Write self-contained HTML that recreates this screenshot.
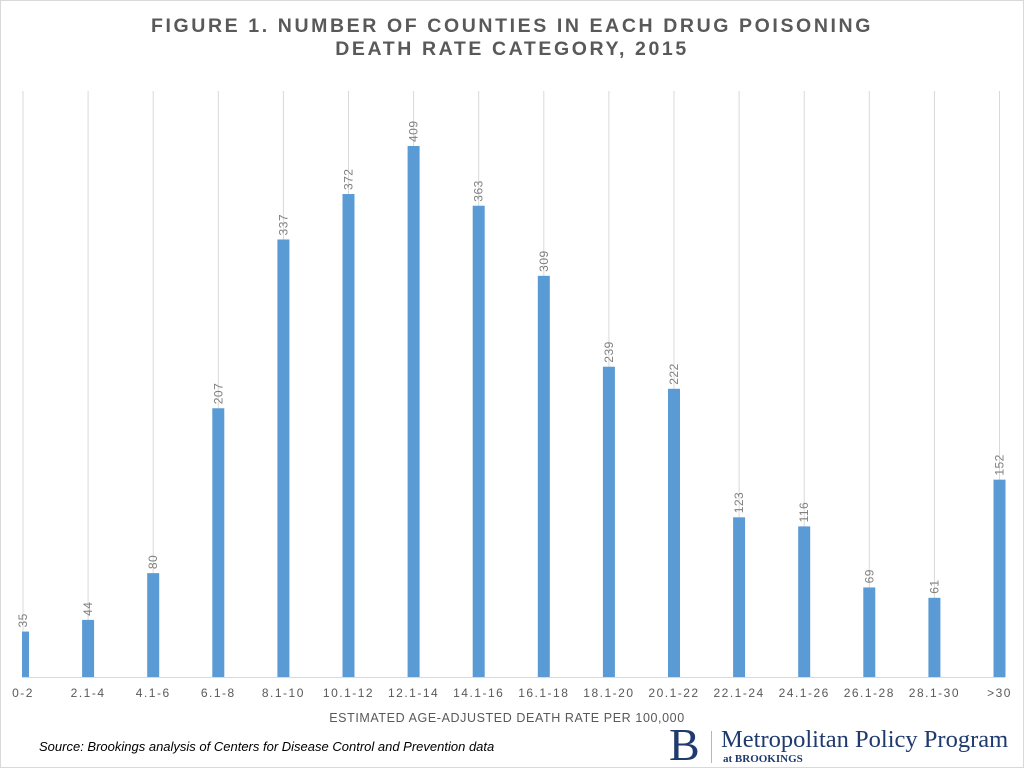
<!DOCTYPE html>
<html><head><meta charset="utf-8"><style>
body{margin:0;background:#fff;}
#wrap{position:relative;width:1022px;height:766px;border:1px solid #d9d9d9;background:#fff;overflow:hidden;font-family:"Liberation Sans",sans-serif;}
.title{position:absolute;left:0;width:1022px;text-align:center;font-weight:bold;font-size:19.5px;line-height:22px;color:#595959;letter-spacing:2.6px;}
</style></head><body>
<div id="wrap">
<div class="title" style="top:14px">FIGURE 1. NUMBER OF COUNTIES IN EACH DRUG POISONING</div>
<div class="title" style="top:37px">DEATH RATE CATEGORY, 2015</div>
<svg id="chart" width="1022" height="766" style="position:absolute;left:0;top:0"></svg>
<div style="position:absolute;left:38px;top:738px;font-style:italic;font-size:13px;color:#000">Source: Brookings analysis of Centers for Disease Control and Prevention data</div>
<div style="position:absolute;left:668px;top:722px;font-family:'Liberation Serif',serif;font-size:46px;color:#1f3a6e;line-height:44px">B</div>
<div style="position:absolute;left:710px;top:730px;width:1px;height:32px;background:#b0b8c8"></div>
<div style="position:absolute;left:720px;top:725px;font-family:'Liberation Serif',serif;font-size:24.5px;color:#1f3a6e">Metropolitan Policy Program</div>
<div style="position:absolute;left:722px;top:752px;font-family:'Liberation Serif',serif;font-size:11px;color:#1f3a6e;font-weight:bold">at BROOKINGS</div>
</div>
<script>
const categories=["0-2","2.1-4","4.1-6","6.1-8","8.1-10","10.1-12","12.1-14","14.1-16","16.1-18","18.1-20","20.1-22","22.1-24","24.1-26","26.1-28","28.1-30",">30"];
const values=[35,44,80,207,337,372,409,363,309,239,222,123,116,69,61,152];
const axisTitle="ESTIMATED  AGE-ADJUSTED  DEATH RATE PER 100,000";
const NS="http://www.w3.org/2000/svg";
const svg=document.getElementById('chart');
const x0=22,step=65.1,base=676,scale=531/409,bw=12,clipL=21;
const xs=i=>x0+i*step, ys=v=>base-v*scale;
function mk(t,a){const e=document.createElementNS(NS,t);for(const k in a)e.setAttribute(k,a[k]);svg.appendChild(e);return e;}
categories.forEach((c,i)=>{
  const cx=xs(i),v=values[i],top=ys(v);
  const g=mk('line',{x1:cx,x2:cx,y1:90,y2:base,stroke:'#d9d9d9','stroke-width':1});
  
  
  const l=Math.max(cx-bw/2,clipL);
  const b=mk('rect',{x:l,y:top,width:cx+bw/2-l,height:base-top,fill:'#5b9bd5'});
  
  
  const t=mk('text',{x:0,y:0,transform:`translate(${cx+4},${top-4}) rotate(-90)`,'font-size':12,fill:'#7f7f7f','letter-spacing':'0.5'});
  t.textContent=v;
  
  
  const xl=mk('text',{x:cx,y:696,'text-anchor':'middle','font-size':12,fill:'#595959','letter-spacing':'1.5'});
  xl.textContent=c;
  
  
});
const ax=mk('line',{x1:clipL,x2:1004,y1:base+0.5,y2:base+0.5,stroke:'#d9d9d9','stroke-width':1});


const at=mk('text',{x:506,y:721,'text-anchor':'middle','font-size':12.5,fill:'#595959','letter-spacing':'0.6','xml:space':'preserve'});
at.textContent=axisTitle;


</script>
</body></html>
